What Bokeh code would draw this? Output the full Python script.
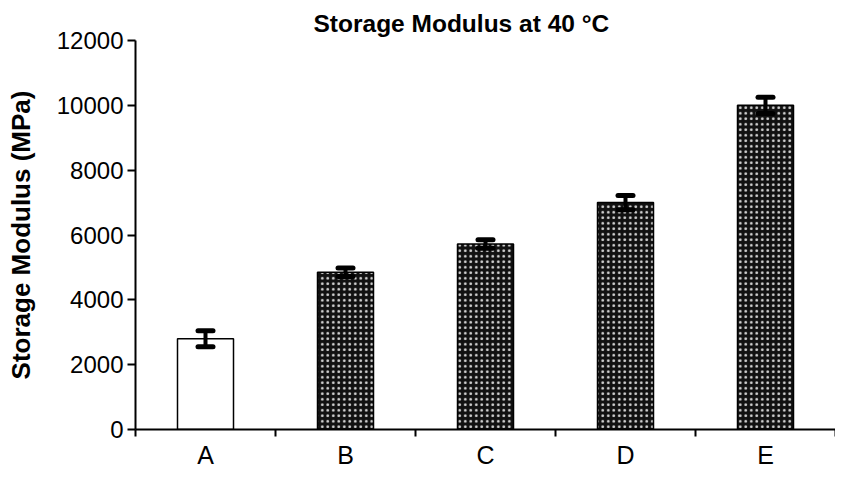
from bokeh.plotting import figure
from bokeh.models import ColumnDataSource, FixedTicker, Range1d, Whisker, TeeHead
from bokeh.embed import file_html
from bokeh.resources import INLINE

categories = ["A", "B", "C", "D", "E"]
modulus = [2800, 4850, 5720, 7000, 10000]
errors = [250, 130, 130, 220, 250]
fills = ["white", "#111111", "#111111", "#111111", "#111111"]
hatches = [" ", "dot", "dot", "dot", "dot"]
y_ticks = [0, 2000, 4000, 6000, 8000, 10000, 12000]

xs = [i + 0.5 for i in range(len(categories))]
src = ColumnDataSource(dict(
    x=xs, top=modulus,
    upper=[m + e for m, e in zip(modulus, errors)],
    lower=[m - e for m, e in zip(modulus, errors)],
    fill=fills, hatch=hatches,
))

p = figure(width=835, height=471, output_backend="svg", toolbar_location=None,
           x_range=Range1d(0, len(categories)), y_range=Range1d(0, 12000),
           min_border_left=135, min_border_right=0, min_border_top=40,
           min_border_bottom=38)
p.outline_line_color = None
p.grid.visible = False

p.vbar(x="x", top="top", width=0.4, source=src, fill_color="fill",
       line_color="black", line_width=1.5,
       hatch_pattern="hatch", hatch_color="#d8d8d8", hatch_scale=5.5, hatch_weight=3.5)

w = Whisker(base="x", upper="upper", lower="lower", source=src,
            line_width=4, line_color="black", level="overlay",
            upper_head=TeeHead(size=15, line_width=5, line_color="black", line_cap="round"),
            lower_head=TeeHead(size=15, line_width=5, line_color="black", line_cap="round"))
p.add_layout(w)

font = "Liberation Sans"
p.title.text = "Storage Modulus at 40 \u00b0C"
p.title.text_font = font
p.title.text_font_size = "24.5px"
p.title.text_font_style = "bold"
p.title.text_color = "black"
p.title.align = "left"
p.title.offset = 178
p.title.standoff = 8

xa = p.xaxis[0]
xa.ticker = FixedTicker(ticks=xs, minor_ticks=list(range(len(categories) + 1)))
xa.major_label_overrides = {x: c for x, c in zip(xs, categories)}
xa.major_tick_out = 0
xa.major_tick_in = 0
xa.minor_tick_out = 7
xa.minor_tick_in = 0
xa.minor_tick_line_width = 2
xa.axis_line_width = 2
xa.major_label_text_font = font
xa.major_label_text_font_size = "25px"
xa.major_label_text_color = "black"
xa.major_label_standoff = 4

ya = p.yaxis[0]
ya.ticker = FixedTicker(ticks=y_ticks)
ya.minor_tick_line_color = None
ya.major_tick_out = 8
ya.major_tick_in = 0
ya.major_tick_line_width = 2
ya.axis_line_width = 2
ya.major_label_text_font = font
ya.major_label_text_font_size = "24px"
ya.major_label_text_color = "black"
ya.major_label_standoff = 4
ya.axis_label = "Storage Modulus (MPa)"
ya.axis_label_text_font = font
ya.axis_label_text_font_size = "26px"
ya.axis_label_text_font_style = "bold"
ya.axis_label_text_color = "black"
ya.axis_label_standoff = 18

open("out.html", "w").write(file_html(p, INLINE))
